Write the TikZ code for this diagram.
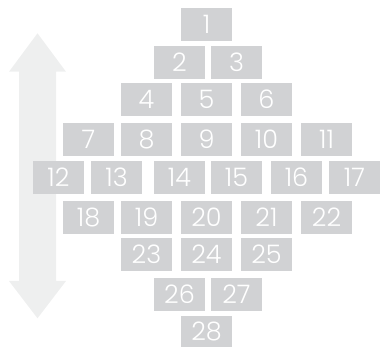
\documentclass[tikz,border=0pt]{standalone}
\usepackage{fontspec}
\setmainfont{Poppins Light}
\definecolor{boxgray}{HTML}{D1D2D4}
\definecolor{arrowgray}{HTML}{EEEFEF}
\begin{document}
\begin{tikzpicture}[x=1pt,y=-1pt,
  numbox/.style={fill=boxgray,draw=none,minimum width=51pt,minimum height=32.5pt,inner sep=0pt,text=white,text height=17.8pt,text depth=0pt,font=\fontsize{25.5}{25.5}\selectfont}]
\useasboundingbox (0,0) rectangle (381,347);
% double arrow
\fill[arrowgray] (37.5,33.3) -- (66,71.7) -- (56,71.7) -- (56,281) -- (66,281) -- (37.5,318.3) -- (9,281) -- (19,281) -- (19,71.7) -- (9,71.7) -- cycle;
% rows
\node[numbox] (n1) at (206.5,24.3) {1};
\node[numbox] (n2) at (179.5,62.3) {2};
\node[numbox] (n3) at (236.5,62.3) {3};
\node[numbox] (n4) at (146.5,99.3) {4};
\node[numbox] (n5) at (206.5,99.3) {5};
\node[numbox] (n6) at (266.5,99.3) {6};
\node[numbox] (n7) at (88.5,139.3) {7};
\node[numbox] (n8) at (146.5,139.3) {8};
\node[numbox] (n9) at (206.5,139.3) {9};
\node[numbox] (n10) at (266.5,139.3) {10};
\node[numbox] (n11) at (326.5,139.3) {11};
\node[numbox] (n12) at (58.5,177.3) {12};
\node[numbox] (n13) at (116.5,177.3) {13};
\node[numbox] (n14) at (179.5,177.3) {14};
\node[numbox] (n15) at (236.5,177.3) {15};
\node[numbox] (n16) at (296.5,177.3) {16};
\node[numbox] (n17) at (354.5,177.3) {17};
\node[numbox] (n18) at (88.5,217.5) {18};
\node[numbox] (n19) at (146.5,217.5) {19};
\node[numbox] (n20) at (206.5,217.5) {20};
\node[numbox] (n21) at (266.5,217.5) {21};
\node[numbox] (n22) at (326.5,217.5) {22};
\node[numbox] (n23) at (146.5,254.3) {23};
\node[numbox] (n24) at (206.5,254.3) {24};
\node[numbox] (n25) at (266.5,254.3) {25};
\node[numbox] (n26) at (179.5,294.3) {26};
\node[numbox] (n27) at (236.5,294.3) {27};
\node[numbox,minimum height=30.5pt] (n28) at (206.5,331.3) {28};
\end{tikzpicture}
\end{document}
